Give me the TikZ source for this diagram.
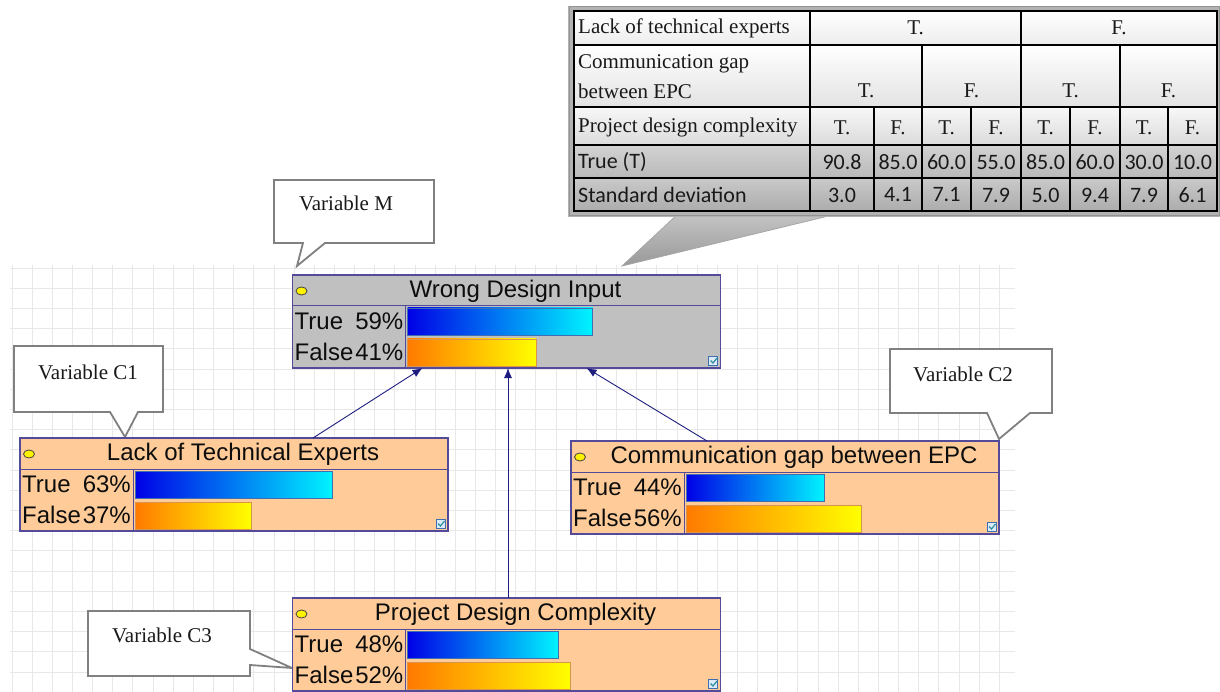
\documentclass[tikz,border=0pt]{standalone}
\usepackage{fontspec}
\setmainfont{Liberation Serif}
\newfontfamily\arialf{Liberation Sans}
\newfontfamily\calibf{Carlito}
\usetikzlibrary{arrows.meta,calc}
\definecolor{peach}{HTML}{FFCC99}
\definecolor{nodegray}{HTML}{C0C0C0}
\definecolor{frameblue}{HTML}{534A9A}
\definecolor{arrowblue}{HTML}{1E1E80}
\definecolor{gridc}{HTML}{E8E8E8}
\definecolor{callgray}{HTML}{808080}
\definecolor{barblue}{HTML}{0000E6}
\definecolor{barcyan}{HTML}{00F4FF}
\definecolor{barorange}{HTML}{FF7A00}
\definecolor{baryellow}{HTML}{FFFF00}
\definecolor{chkblue}{HTML}{3F6FB0}
\definecolor{chkfill}{HTML}{DCEBFA}
\definecolor{chkgreen}{HTML}{2E8FA0}
\tikzset{
  gridline/.style={draw=gridc, line width=0.9pt},
  bnframe/.style={draw=frameblue, line width=1.2pt, minimum width=428pt, minimum height=93pt, inner sep=0pt, outer sep=0pt},
  bnline/.style={draw=frameblue, line width=1pt},
  ttl/.style={font=\arialf\fontsize{24}{28}\selectfont, text=black!95, inner sep=0pt},
  lbl/.style={font=\arialf\fontsize{24}{28}\selectfont, text=black!95, inner sep=0pt},
  truebar/.style={left color=barblue, right color=barcyan, draw=chkblue, line width=0.8pt},
  falsebar/.style={left color=barorange, right color=baryellow, draw=orange!80!black!70, line width=0.8pt},
  chkbox/.style={fill=chkfill, draw=chkblue, line width=0.8pt},
  arr/.style={draw=arrowblue, line width=0.9pt, -{Latex[length=10pt,width=8pt]}},
  callout/.style={fill=white, draw=callgray, line width=1.8pt, line join=miter},
  calltext/.style={font=\fontsize{21}{25}\selectfont, text=black!90, inner sep=0pt},
  tser/.style={font=\fontsize{21}{25}\selectfont, text=black!90, inner sep=0pt},
  tcal/.style={font=\calibf\fontsize{22}{26}\selectfont, text=black!90, inner sep=0pt},
  tline/.style={draw=black, line width=2.6pt},
}
\newcommand\bnnode[7]{%
  \node[bnframe, fill=#4] (#1) at (#2,#3) {};
  \draw[bnline] ($(#1.north west)+(0,31)$) -- ($(#1.north east)+(0,31)$);
  \draw[bnline] ($(#1.north west)+(113,31)$) -- ($(#1.south west)+(113,0)$);
  \draw[fill=yellow, draw=black!75, line width=0.8pt] ($(#1.north west)+(9,16)$) ellipse (5.5 and 4);
  \node[ttl] (#1t) at ($(#1.north)+(9,16)$) {#5};
  \node[lbl, anchor=west] (#1a) at ($(#1.north west)+(2,46.5)$) {True};
  \node[lbl, anchor=east] (#1b) at ($(#1.north west)+(111,46.5)$) {#6\%};
  \node[lbl, anchor=west] (#1c) at ($(#1.north west)+(2,77)$) {False};
  \node[lbl, anchor=east] (#1d) at ($(#1.north west)+(111,77)$) {#7\%};
  \path[truebar] ($(#1.north west)+(115,33)$) rectangle ++({#6*3.14},27);
  \path[falsebar] ($(#1.north west)+(115,64)$) rectangle ++({#7*3.14},27);
  \path[chkbox] ($(#1.south east)+(-12,-12)$) rectangle ++(9,9);
  \draw[chkgreen, line width=1.2pt] ($(#1.south east)+(-10,-7.5)$) -- ++(2.5,2.5) -- ++(4,-5);
}
\begin{document}
\begin{tikzpicture}[x=1pt, y=-1pt]
\useasboundingbox (0,0) rectangle (1220,692);
\fill[white] (0,0) rectangle (1220,692);
% grid
\foreach \i in {0,...,49} {\draw[gridline] ({12+20.15*\i},265) -- ({12+20.15*\i},692);}
\foreach \j in {0,...,20} {\draw[gridline] (10,{268+20.2*\j}) -- (1015,{268+20.2*\j});}

% table callout pointer
\shade[top color=gray!45, bottom color=gray!80, draw=gray!70, line width=0.8pt] (680,212) -- (845,212) -- (622,266) -- cycle;
% table frame
\fill[gray!60] (568,6) rectangle (1220,217);
\draw[gray!85, line width=1pt] (569,7) rectangle (1219,216);
% row fills
\shade[top color=white, bottom color=gray!14] (574,11) rectangle (1217,45);
\shade[top color=white, bottom color=gray!22] (574,45) rectangle (1217,107);
\shade[top color=gray!6, bottom color=gray!28] (574,107) rectangle (1217,145);
\shade[top color=gray!35, bottom color=gray!55] (574,145) rectangle (1217,178);
\shade[top color=gray!42, bottom color=gray!65] (574,178) rectangle (1217,211);
% table lines
\draw[tline] (574,11) rectangle (1217,211);
\foreach \yy in {45,107,145,178} {\draw[tline] (574,\yy) -- (1217,\yy);}
\draw[tline] (810,11) -- (810,211);
\draw[tline] (1021,11) -- (1021,211);
\draw[tline] (922,45) -- (922,211);
\draw[tline] (1120,45) -- (1120,211);
\foreach \xx in {874,971,1070,1168} {\draw[tline] (\xx,107) -- (\xx,211);}
% table texts
\node[tser, anchor=west] (h1) at (578,28) {Lack of technical experts};
\node[tser, anchor=west] (h2a) at (578,64) {Communication gap};
\node[tser, anchor=west] (h2b) at (578,91) {between EPC};
\node[tser, anchor=west] (h3) at (578,127) {Project design complexity};
\node[tcal, anchor=west] (h4) at (578,162) {True (T)};
\node[tcal, anchor=west] (h5) at (578,195) {Standard deviation};
\node[tser] (l1t) at (915.5,28) {T.};
\node[tser] (l1f) at (1119,28) {F.};
\node[tser] (l2a) at (866,91) {T.};
\node[tser] (l2b) at (971.5,91) {F.};
\node[tser] (l2c) at (1070.5,91) {T.};
\node[tser] (l2d) at (1168.5,91) {F.};
\foreach \cx/\a/\b/\c [count=\k] in {842/T./90.8/3.0, 898/F./85.0/4.1, 946.5/T./60.0/7.1, 996/F./55.0/7.9, 1045.5/T./85.0/5.0, 1095/F./60.0/9.4, 1144/T./30.0/7.9, 1192.5/F./10.0/6.1} {
  \node[tser] (p\k) at (\cx,128) {\a};
  \node[tcal] (r\k) at (\cx,162) {\b};
  \node[tcal] (s\k) at (\cx,195) {\c};
}

% variable callouts
\draw[callout] (274,180) -- (434,180) -- (434,243) -- (325,243) -- (297,266) -- (303,243) -- (274,243) -- cycle;
\node[calltext] (vm) at (346,203) {Variable M};
\draw[callout] (14,346) -- (163,346) -- (163,412) -- (138,412) -- (125,437) -- (110,412) -- (14,412) -- cycle;
\node[calltext] (vc1) at (88,372) {Variable C1};
\draw[callout] (890,349) -- (1052,349) -- (1052,413) -- (1030,413) -- (999,439) -- (987,413) -- (890,413) -- cycle;
\node[calltext] (vc2) at (963,374) {Variable C2};
\draw[callout] (88,611) -- (250,611) -- (250,649) -- (292,668) -- (250,665) -- (250,676) -- (88,676) -- cycle;
\node[calltext] (vc3) at (162,635) {Variable C3};

% BN nodes
\bnnode{wdi}{506.5}{321.5}{nodegray}{Wrong Design Input}{59}{41}
\bnnode{lte}{234}{484.5}{peach}{Lack of Technical Experts}{63}{37}
\bnnode{cge}{785}{487.5}{peach}{Communication gap between EPC}{44}{56}
\bnnode{pdc}{506.5}{644.5}{peach}{Project Design Complexity}{48}{52}

% connectors
\draw[arr] ($(lte.north)+(79,0)$) -- ($(wdi.south)+(-84,0)$);
\draw[arr] ($(cge.north)+(-78,0)$) -- ($(wdi.south)+(80,0)$);
\draw[arr] ($(pdc.north)+(1.5,0)$) -- ($(wdi.south)+(1.5,0)$);
\end{tikzpicture}
\end{document}
